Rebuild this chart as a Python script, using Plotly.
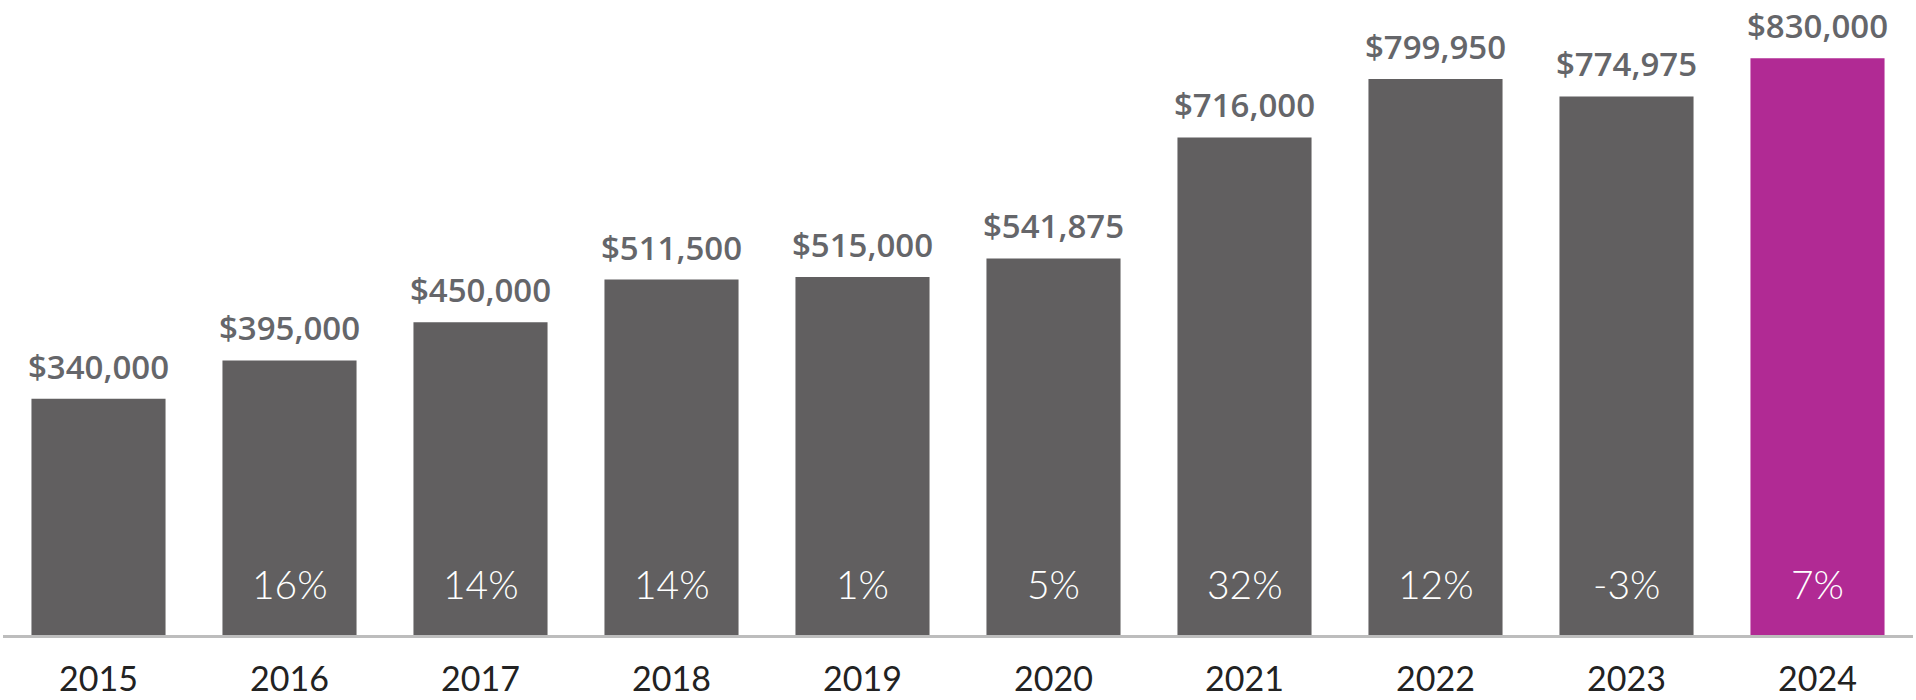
import plotly.graph_objects as go

years = ["2015", "2016", "2017", "2018", "2019", "2020", "2021", "2022", "2023", "2024"]
prices = [340000, 395000, 450000, 511500, 515000, 541875, 716000, 799950, 774975, 830000]
price_labels = ["$340,000", "$395,000", "$450,000", "$511,500", "$515,000", "$541,875",
                "$716,000", "$799,950", "$774,975", "$830,000"]
change_labels = ["", "16%", "14%", "14%", "1%", "5%", "32%", "12%", "-3%", "7%"]

GRAY = "#615f60"
MAGENTA = "#b12a94"
colors = [GRAY] * (len(years) - 1) + [MAGENTA]

fig = go.Figure()
fig.add_trace(go.Bar(
    x=years, y=prices, marker=dict(color=colors, line=dict(width=0)),
    hoverinfo="skip", showlegend=False,
))

for i, (p, lab) in enumerate(zip(prices, price_labels)):
    fig.add_annotation(x=i, y=p, text=lab, showarrow=False, yanchor="bottom",
                       yshift=8, font=dict(family="Open Sans", size=33, color="#65666a", weight=600))

for i, lab in enumerate(change_labels):
    if lab:
        fig.add_annotation(x=i, y=0, text=lab, showarrow=False, yanchor="bottom",
                           yshift=26, font=dict(family="Lato", size=39, color="#ffffff", weight=300))

fig.update_layout(
    width=1916, height=700,
    margin=dict(l=3, r=3, t=0, b=65),
    plot_bgcolor="white", paper_bgcolor="white",
    bargap=0.298,
    xaxis=dict(type="category", categoryorder="array", categoryarray=years,
               range=[-0.5, len(years) - 0.5], autorange=False,
               showline=True, linecolor="#bdbdbd", linewidth=3, showgrid=False,
               ticks="", tickfont=dict(family="Lato", size=34, color="#222222"),
               ticklabelstandoff=12, fixedrange=True),
    yaxis=dict(range=[0, 913670], autorange=False, visible=False, showgrid=False,
               zeroline=False, fixedrange=True),
)

fig.write_html("out.html", config={"displayModeBar": False},
               post_script="document.body.style.margin='0';")
